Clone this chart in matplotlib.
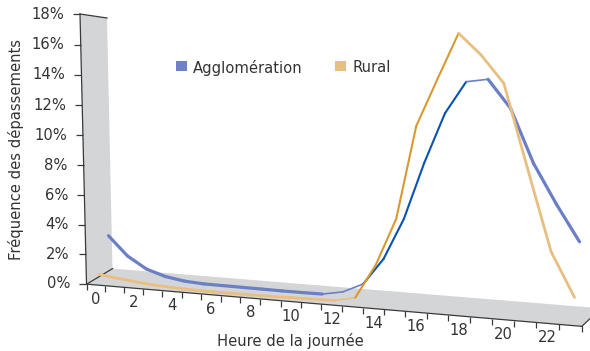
import numpy as np
import matplotlib
matplotlib.use("Agg")
import matplotlib.pyplot as plt
from matplotlib.transforms import Transform
from matplotlib.collections import LineCollection
from matplotlib.patches import Polygon, Rectangle

hours = np.arange(24)
agglo = [2.92, 1.62, 0.82, 0.41, 0.20, 0.12, 0.11, 0.10, 0.09, 0.08, 0.08, 0.09,
         0.34, 0.97, 2.70, 5.39, 9.07, 12.30, 14.35, 14.55, 12.78, 9.40, 6.92, 4.67]
rural = [0.57, 0.41, 0.26, 0.15, 0.08, 0.04, 0.03, 0.03, 0.04, 0.05, 0.08, 0.10,
         0.12, 0.42, 2.63, 5.67, 11.63, 14.61, 17.53, 16.22, 14.51, 9.34, 4.26, 1.55]
yticks = np.arange(0, 19, 2)
series = ["Agglomération", "Rural"]
z_blue, z_orange = 0.5, 0.12

# reference geometry of the 3d box (hour, value, depth) -> picture pixel
ref_3d = np.array([[0, 0, 0], [0, 18, 0], [0, 0, 1], [0, 18, 1], [24, 0, 0], [24, 0, 1],
                   [4, 0, 0], [8, 0, 0], [12, 0, 0], [0, 2, 0], [0, 4, 0]], float)
ref_px = np.array([[86.5, 283.5], [80, 14], [112.5, 269.5], [107, 18], [581.7, 327.3],
                   [601, 307.3], [162.7, 290.2], [240, 297.1], [321.7, 304.3],
                   [85.8, 254.3], [85.2, 225]])
T = np.array([[1 / 300, 0, -1], [0, 1 / 300, -175 / 300], [0, 0, 1]])


def norm_px(u, v):
    return u / 300 - 1, v / 300 - 175 / 300


# camera for the data ribbons
rows = []
for (X, Y, Z), (u, v) in zip(ref_3d, ref_px):
    Xn, Yn = X / 24, Y / 18
    un, vn = norm_px(u, v)
    rows.append([Xn, Yn, Z, 1, 0, 0, 0, 0, -un * Xn, -un * Yn, -un * Z, -un])
    rows.append([0, 0, 0, 0, Xn, Yn, Z, 1, -vn * Xn, -vn * Yn, -vn * Z, -vn])
Pn = np.linalg.svd(np.array(rows))[2][-1].reshape(3, 4)
P = np.linalg.inv(T) @ Pn @ np.diag([1 / 24, 1 / 18, 1, 1])


def fit_plane(src, dst, sx, sy):
    rows = []
    for (a, b), (u, v) in zip(src, dst):
        a, b = a / sx, b / sy
        un, vn = norm_px(u, v)
        rows.append([a, b, 1, 0, 0, 0, -un * a, -un * b, -un])
        rows.append([0, 0, 0, a, b, 1, -vn * a, -vn * b, -vn])
    Hn = np.linalg.svd(np.array(rows))[2][-1].reshape(3, 3)
    return np.linalg.inv(T) @ Hn @ np.diag([1 / sx, 1 / sy, 1])


# floor: (hour, depth), wall: (depth, value)
H_floor = fit_plane([(0, 0), (24, 0), (24, 1), (0, 1), (4, 0), (8, 0), (12, 0), (13, 0)],
                    [(86.5, 283.5), (581.7, 327.3), (601, 307.3), (112.5, 269.5),
                     (162.7, 290.2), (240, 297.1), (321.7, 304.3), (342, 306.1)], 24, 1)
H_wall = fit_plane([(0, 0), (0, 18), (1, 0), (1, 18)],
                   [(86.5, 283.5), (80, 14), (112.5, 269.5), (107, 18)], 1, 18)


class Homography(Transform):
    input_dims = output_dims = 2

    def __init__(self, H):
        super().__init__()
        self.H = H

    def transform_non_affine(self, values):
        values = np.asarray(values, float).reshape(-1, 2)
        pts = np.column_stack([values, np.ones(len(values))]) @ self.H.T
        return pts[:, :2] / pts[:, 2:3]


fig = plt.figure(figsize=(5.9, 3.51), dpi=100)
ax = fig.add_axes([0, 0, 1, 1])
ax.set_xlim(0, 590)
ax.set_ylim(351, 0)
ax.axis("off")


def depth_plane(z):
    E = np.array([[1, 0, 0], [0, 1, 0], [0, 0, z], [0, 0, 1]], float)
    return Homography(P @ E) + ax.transData


wall = Homography(H_wall) + ax.transData
floor = Homography(H_floor) + ax.transData

grey = "#d4d5d7"
edge = "#3a3a3a"
txt = "#333333"
fs = 10.6
ax.add_patch(Polygon([[0, 0], [1, 0], [1, 18], [0, 18]], closed=True, fc=grey, ec="none",
                     transform=wall, zorder=1))
ax.add_patch(Polygon([[0, 0], [24, 0], [24, 1], [0, 1]], closed=True, fc=grey, ec="none",
                     transform=floor, zorder=1))
ax.plot([0, 0], [0, 18], color=edge, lw=0.9, transform=wall, zorder=2)
ax.plot([0, 1], [18, 18], color=edge, lw=0.9, transform=wall, zorder=2)
ax.plot([0, 24], [0, 0], color=edge, lw=0.9, transform=floor, zorder=2)
ax.plot([0, 0], [0, 1], color=edge, lw=0.9, transform=floor, zorder=2)
ax.plot([24, 24], [0, 1], color=edge, lw=0.9, transform=floor, zorder=2)

# tick marks
ax.plot(np.zeros(len(yticks)), yticks, ls="", marker=0, ms=5, mew=0.9, color=edge,
        transform=wall, zorder=2)
ax.plot(np.arange(25), np.zeros(25), ls="", marker=3, ms=4, mew=0.9, color=edge,
        transform=floor, zorder=2)
for v in yticks:
    ax.annotate(f"{v}%", xy=(0, v), xycoords=wall, xytext=(-16, 0), textcoords="offset pixels",
                ha="right", va="center", fontsize=fs, color=txt)
for h in hours[::2]:
    ax.annotate(str(h), xy=(h + 0.5, 0), xycoords=floor, xytext=(0, -14.5),
                textcoords="offset pixels", ha="center", va="center", fontsize=fs, color=txt)

ax.text(290, 341, "Heure de la journée", ha="center", va="center", fontsize=fs, color=txt)
ax.text(16, 150, "Fréquence des dépassements", ha="center", va="center", rotation=90,
        fontsize=fs, color=txt)


def ribbon(vals, z, light, dark, lw):
    segs, cols, lws = [], [], []
    for h in range(len(vals) - 1):
        segs.append([(h + 0.5, vals[h]), (h + 1.5, vals[h + 1])])
        rise = vals[h + 1] - vals[h]
        if rise > 1.5:
            cols.append(dark)
            lws.append(1.5)
        elif rise > 0.15:
            cols.append(light)
            lws.append(1.2)
        else:
            cols.append(light)
            lws.append(lw)
    ax.add_collection(LineCollection(segs, colors=cols, linewidths=lws, transform=depth_plane(z),
                                     zorder=3, capstyle="round", joinstyle="round"))


ribbon(agglo, z_blue, "#6b7fc6", "#0a52b4", 2.3)
ribbon(rural, z_orange, "#e8bf80", "#d89a30", 2.0)

ax.add_patch(Rectangle((176, 60.5), 10.5, 10.5, fc="#6e82c6", ec="none"))
ax.text(193, 67.5, series[0], ha="left", va="center", fontsize=fs, color=txt)
ax.add_patch(Rectangle((335, 60.5), 10.5, 10.5, fc="#e6bf80", ec="none"))
ax.text(353, 67.5, series[1], ha="left", va="center", fontsize=fs, color=txt)

fig.savefig("out.png", dpi=100)
